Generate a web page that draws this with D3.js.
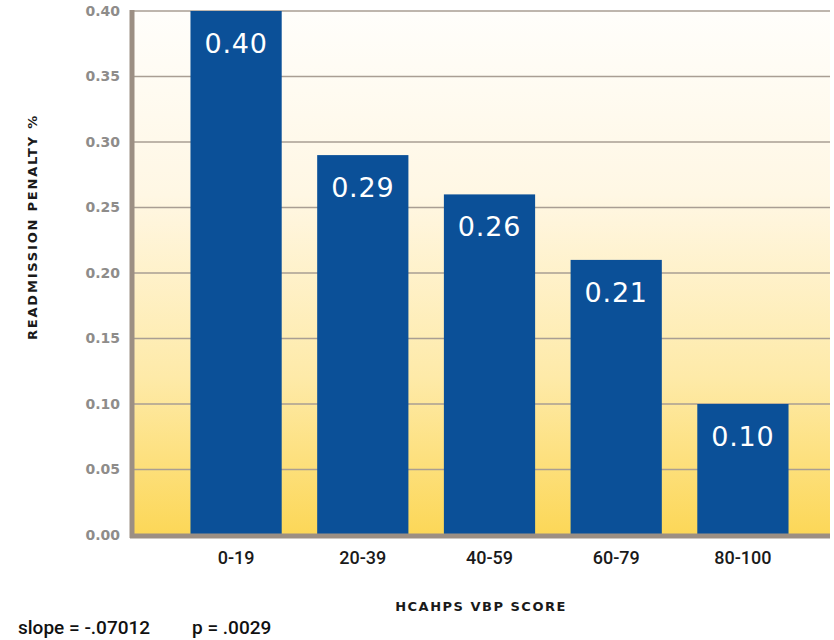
<!DOCTYPE html>
<html>
<head>
<meta charset="utf-8">
<script src="https://cdn.jsdelivr.net/npm/d3@7"></script>
<style>
  html, body { margin: 0; padding: 0; background: #ffffff; }
  svg { display: block; }
</style>
</head>
<body>
<svg id="chart" width="834" height="640"></svg>
<script>
// Readmission penalty by HCAHPS VBP score band
const categories = ["0-19", "20-39", "40-59", "60-79", "80-100"];
const penalties = [0.40, 0.29, 0.26, 0.21, 0.10];
const yTicks = [0.00, 0.05, 0.10, 0.15, 0.20, 0.25, 0.30, 0.35, 0.40];
const footnote = ["slope = -.07012", "p = .0029"];

const svg = d3.select("#chart");
const plot = { left: 133, right: 830, top: 11, bottom: 535 };

const x = d3.scaleBand()
  .domain(categories)
  .range([155, 824])
  .paddingInner(0.28)
  .paddingOuter(0.28);

const y = d3.scaleLinear()
  .domain([0, 0.40])
  .range([plot.bottom, plot.top]);

// background gradient: cream at top, warm yellow at the base
const defs = svg.append("defs");
const grad = defs.append("linearGradient")
  .attr("id", "bg").attr("x1", 0).attr("y1", 0).attr("x2", 0).attr("y2", 1);
grad.append("stop").attr("offset", "0%").attr("stop-color", "#fffefb");
grad.append("stop").attr("offset", "35%").attr("stop-color", "#fff7e4");
grad.append("stop").attr("offset", "70%").attr("stop-color", "#feeaa8");
grad.append("stop").attr("offset", "100%").attr("stop-color", "#fcd757");

svg.append("rect")
  .attr("x", plot.left).attr("y", plot.top)
  .attr("width", plot.right - plot.left)
  .attr("height", plot.bottom - plot.top)
  .attr("fill", "url(#bg)");

// horizontal gridlines
svg.append("g")
  .selectAll("line")
  .data(yTicks.filter(d => d > 0))
  .join("line")
  .attr("x1", plot.left).attr("x2", plot.right)
  .attr("y1", d => y(d)).attr("y2", d => y(d))
  .attr("stroke", "#a99e93")
  .attr("stroke-width", 1.6);

// y tick labels
const yAxis = d3.axisLeft(y)
  .tickValues(yTicks)
  .tickFormat(d3.format(".2f"))
  .tickSize(0)
  .tickPadding(13);
const yg = svg.append("g")
  .attr("transform", `translate(${plot.left},0)`)
  .call(yAxis);
yg.select(".domain").remove();
yg.selectAll("text")
  .attr("fill", "#8e8c8a")
  .style("font-family", "'DejaVu Sans', sans-serif")
  .style("font-weight", "bold")
  .style("font-size", "14px");

// bars
svg.append("g")
  .selectAll("rect")
  .data(penalties)
  .join("rect")
  .attr("x", (d, i) => x(categories[i]))
  .attr("y", d => y(d))
  .attr("width", x.bandwidth())
  .attr("height", d => y(0) - y(d))
  .attr("fill", "#0b5098");

// value labels inside the bars
svg.append("g")
  .selectAll("text")
  .data(penalties)
  .join("text")
  .attr("x", (d, i) => x(categories[i]) + x.bandwidth() / 2)
  .attr("y", d => y(d) + 42)
  .attr("text-anchor", "middle")
  .attr("fill", "#ffffff")
  .style("font-family", "'DejaVu Sans', sans-serif")
  .style("font-size", "27px")
  .style("letter-spacing", "0.8px")
  .text(d => d3.format(".2f")(d));

// axis frame: left and bottom rules
svg.append("line")
  .attr("x1", plot.left - 1).attr("x2", plot.left - 1)
  .attr("y1", plot.top - 1).attr("y2", plot.bottom + 3)
  .attr("stroke", "#9c8f83").attr("stroke-width", 5);
svg.append("line")
  .attr("x1", plot.left - 3).attr("x2", plot.right)
  .attr("y1", plot.bottom + 1).attr("y2", plot.bottom + 1)
  .attr("stroke", "#9c8f83").attr("stroke-width", 5);

// category labels
const xAxis = d3.axisBottom(x).tickSize(0).tickPadding(13);
const xg = svg.append("g")
  .attr("transform", `translate(0,${plot.bottom + 3})`)
  .call(xAxis);
xg.select(".domain").remove();
xg.selectAll("text")
  .attr("fill", "#1a1a1a")
  .style("font-family", "Roboto, sans-serif")
  .style("font-weight", "500")
  .style("font-size", "18px");

// axis titles
svg.append("text")
  .attr("x", 481).attr("y", 611)
  .attr("text-anchor", "middle")
  .attr("fill", "#1a1a1a")
  .style("font-family", "'DejaVu Sans', sans-serif")
  .style("font-weight", "bold")
  .style("font-size", "13px")
  .style("letter-spacing", "1.5px")
  .text("HCAHPS VBP SCORE");

svg.append("text")
  .attr("transform", "translate(37,227) rotate(-90)")
  .attr("text-anchor", "middle")
  .attr("fill", "#1a1a1a")
  .style("font-family", "'DejaVu Sans', sans-serif")
  .style("font-weight", "bold")
  .style("font-size", "13px")
  .style("letter-spacing", "1.8px")
  .text("READMISSION PENALTY %");

// regression note
svg.append("g")
  .selectAll("text")
  .data(footnote)
  .join("text")
  .attr("x", (d, i) => i === 0 ? 18 : 192)
  .attr("y", 634)
  .attr("fill", "#111111")
  .style("font-family", "Roboto, sans-serif")
  .style("font-weight", "500")
  .style("font-size", "19px")
  .text(d => d);
</script>
</body>
</html>
